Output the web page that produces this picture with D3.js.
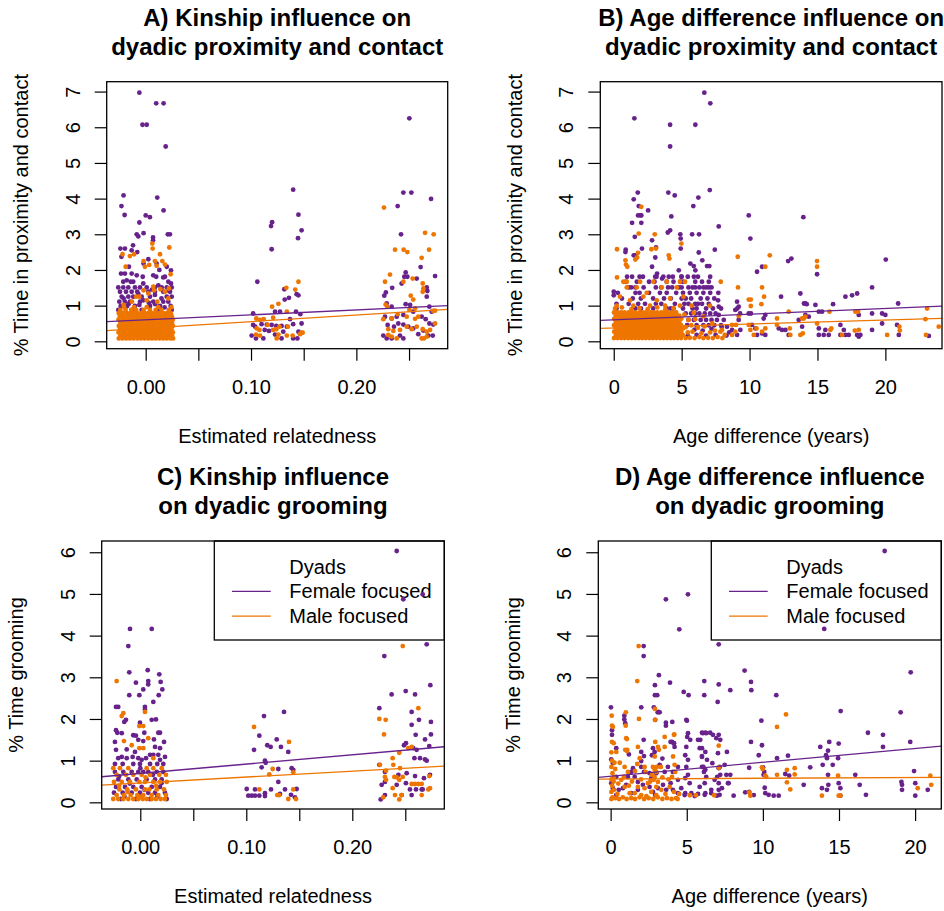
<!DOCTYPE html>
<html>
<head>
<meta charset="utf-8">
<script src="https://cdn.jsdelivr.net/npm/d3@7"></script>
<style>
  body { margin: 0; background: #fff; }
  text { font-family: "Liberation Sans", Arial, Helvetica, sans-serif; }
</style>
</head>
<body>
<svg id="chart" width="944" height="911"></svg>
<script>
// ---- data ----
const kinTicks = [0, 0.05, 0.10, 0.15, 0.20, 0.25];
const kinLabels = ['0.00', '', '0.10', '', '0.20', ''];
const ageTicks = [0, 5, 10, 15, 20];
const ageLabels = ['0', '5', '10', '15', '20'];
const proxTicks = [0, 1, 2, 3, 4, 5, 6, 7];
const groomTicks = [0, 1, 2, 3, 4, 5, 6];
const legendLabels = ['Dyads', 'Female focused', 'Male focused'];

// regression lines [intercept, slope]
const kinProxFemFit = [0.601, 1.39];
const kinProxMaleFit = [0.368, 1.84];
const ageProxFemFit = [0.603, 0.0159];
const ageProxMaleFit = [0.374, 0.0111];
const kinGroomFemFit = [0.695, 2.228];
const kinGroomMaleFit = [0.466, 1.41];
const ageGroomFemFit = [0.627, 0.0333];
const ageGroomMaleFit = [0.56, 0.0018];

// A) relatedness vs % proximity/contact
const kinProxFem = [
  [-0.006,6.97],[-0.003,6.07],[0.001,6.07],[0.010,6.67],[0.017,6.67],[0.019,5.46],
  [-0.021,4.09],[-0.023,3.79],[-0.020,3.54],[0.011,4.03],[0.017,3.67],[0.000,3.53],[0.004,3.48],
  [-0.006,3.33],[-0.0085,3.0],[-0.007,2.94],[-0.002,3.03],[0.007,2.91],[0.007,2.83],[0.021,3.0],[0.023,3.0],
  [-0.024,2.6],[-0.0197,2.6],[-0.023,2.37],[-0.012,2.69],[-0.0133,2.55],[-0.008,2.5],[-0.002,2.18],[0.0025,2.3],
  [0.0104,2.18],[0.013,2.0],[0.02,2.09],[0.024,1.99],[-0.0159,2.09],
  [-0.0234,1.9],[-0.0197,1.9],[-0.0133,1.9],[-0.0085,1.85],[-0.0028,1.81],[0.0072,1.85],[0.0183,1.81],[0.010,1.81],[0.0167,1.79],
  [-0.0213,1.67],[-0.018,1.71],[-0.0142,1.67],[-0.0118,1.67],[-0.0023,1.62],[0.012,1.57],[0.0215,1.67],[0.024,1.62],
  [-0.026,1.51],[-0.0213,1.51],[-0.0165,1.51],[-0.0102,1.51],[-0.0054,1.51],[0.001,1.51],[0.0088,1.51],[0.0152,1.51],[0.02,1.51],[0.0247,1.51],
  [-0.0244,1.39],[-0.0187,1.39],[-0.0133,1.39],[-0.008,1.39],[0.0025,1.39],[0.0088,1.39],[0.0167,1.39],[0.0231,1.39],
  [-0.0228,1.25],[-0.0165,1.25],[-0.0118,1.25],[-0.0038,1.25],[0.0041,1.25],[0.0088,1.3],[0.02,1.25],[0.0247,1.25],
  [-0.025,1.11],[-0.0197,1.11],[-0.0149,1.11],[-0.0054,1.11],[-0.0023,1.15],[0.0072,1.11],[0.0167,1.11],[0.0215,1.11],
  [-0.0237,0.99],[-0.0175,0.99],[-0.0102,0.99],[0.0041,0.99],[0.0136,0.99],[0.0237,0.99],[-0.006,1.02],[0.009,1.04],
  [-0.026,0.88],[-0.0133,0.88],[-0.0038,0.88],[0.012,0.88],[0.0247,0.88],
  [-0.021,1.2],[-0.007,1.33],[0.006,1.45],[0.015,1.2],[0.022,1.42],[-0.016,1.05],[0.003,1.08],[0.018,0.95],[-0.011,0.93],
  [0.140,4.25],[0.145,3.55],[0.148,3.11],[0.1446,2.89],[0.120,3.34],[0.119,3.23],[0.1196,2.58],[0.106,1.67],
  [0.1316,1.46],[0.1433,1.32],[0.145,1.29],[0.132,1.17],[0.136,1.22],[0.102,0.78],[0.1228,0.83],[0.1275,0.83],
  [0.1427,0.83],[0.1468,0.76],[0.137,0.62],[0.102,0.46],[0.104,0.41],[0.110,0.48],[0.115,0.47],[0.1196,0.46],
  [0.124,0.43],[0.129,0.43],[0.134,0.41],[0.140,0.48],[0.148,0.5],[0.113,0.32],[0.117,0.29],[0.1306,0.27],[0.145,0.27],
  [0.1006,0.16],[0.1047,0.08],[0.1117,0.08],[0.1228,0.19],[0.129,0.08],[0.140,0.08],[0.144,0.08],
  [0.2503,6.25],[0.2446,4.17],[0.2522,4.17],[0.2392,3.79],[0.2709,3.99],[0.2424,3.0],[0.261,2.08],[0.2747,1.83],
  [0.2468,1.93],[0.2455,1.81],[0.2484,1.81],[0.234,1.5],[0.243,1.62],[0.228,1.37],[0.2265,1.28],[0.2668,1.51],
  [0.2674,1.41],[0.2668,1.25],[0.2573,1.76],[0.2288,1.06],[0.2335,0.97],[0.2468,1.04],[0.251,1.02],[0.2693,0.97],
  [0.2715,0.83],[0.2272,0.69],[0.2335,0.64],[0.2383,0.69],[0.2446,0.74],[0.254,0.83],[0.262,0.69],[0.2658,0.62],
  [0.2297,0.46],[0.2357,0.41],[0.2398,0.5],[0.2446,0.47],[0.2493,0.41],[0.254,0.36],[0.2693,0.5],[0.273,0.47],
  [0.2256,0.16],[0.2288,0.08],[0.2335,0.08],[0.2414,0.16],[0.2446,0.08],[0.2588,0.2],[0.2635,0.3],[0.2683,0.16],[0.2725,0.16]
];
const kinProxMale = [
  [0.0063,2.74],[0.0224,2.63],[0.0066,2.6],[-0.022,2.44],[-0.015,2.39],[-0.011,2.44],[0.0136,2.44],[-0.002,2.25],
  [0.0034,2.14],[0.0088,2.25],[-0.019,2.09],[-0.0007,2.09],[0.0104,2.12],[0.0237,1.88],[0.0183,2.15],[0.0158,2.25],
  [0.0072,1.53],[0.008,1.43],[-0.002,1.43],[0.014,1.46],[0.022,1.48],[-0.009,1.25],[-0.006,1.25],[0.0025,1.34],
  [0.0183,1.39],[0.001,1.15],[0.0215,1.2],[-0.013,1.11],[-0.021,1.02],[0.011,1.11],
  [-0.0255,0.08],[-0.022,0.08],[-0.0185,0.08],[-0.015,0.08],[-0.0115,0.08],[-0.008,0.08],[-0.0045,0.08],[-0.001,0.08],
  [0.0025,0.08],[0.006,0.08],[0.0095,0.08],[0.013,0.08],[0.0165,0.08],[0.02,0.08],[0.0235,0.08],[0.026,0.08],
  [-0.024,0.16],[-0.0205,0.16],[-0.017,0.16],[-0.0135,0.16],[-0.01,0.16],[-0.0065,0.16],[-0.003,0.16],[0.0005,0.16],
  [0.004,0.16],[0.0075,0.16],[0.011,0.16],[0.0145,0.16],[0.018,0.16],[0.0215,0.16],[0.025,0.16],
  [-0.0258,0.25],[-0.0222,0.25],[-0.019,0.25],[-0.0152,0.25],[-0.012,0.25],[-0.0083,0.25],[-0.005,0.25],[-0.0013,0.25],
  [0.002,0.25],[0.0058,0.25],[0.009,0.25],[0.0128,0.25],[0.016,0.25],[0.0198,0.25],[0.023,0.25],[0.0258,0.25],
  [-0.0245,0.34],[-0.0208,0.34],[-0.0175,0.34],[-0.0138,0.34],[-0.0105,0.34],[-0.0068,0.34],[-0.0035,0.34],[0.0002,0.34],
  [0.0035,0.34],[0.0072,0.34],[0.0105,0.34],[0.0142,0.34],[0.0175,0.34],[0.0212,0.34],[0.0245,0.34],
  [-0.0255,0.43],[-0.0218,0.43],[-0.0185,0.43],[-0.0148,0.43],[-0.0115,0.43],[-0.0078,0.43],[-0.0045,0.43],[-0.0008,0.43],
  [0.0025,0.43],[0.0062,0.43],[0.0095,0.43],[0.0132,0.43],[0.0165,0.43],[0.0202,0.43],[0.0235,0.43],[0.0258,0.43],
  [-0.024,0.52],[-0.0203,0.52],[-0.017,0.52],[-0.0133,0.52],[-0.01,0.52],[-0.0063,0.52],[-0.003,0.52],[0.0007,0.52],
  [0.004,0.52],[0.0077,0.52],[0.011,0.52],[0.0147,0.52],[0.018,0.52],[0.0217,0.52],[0.025,0.52],
  [-0.0258,0.61],[-0.022,0.61],[-0.0188,0.61],[-0.015,0.61],[-0.0118,0.61],[-0.008,0.61],[-0.0048,0.61],[-0.001,0.61],
  [0.0022,0.61],[0.006,0.61],[0.0092,0.61],[0.013,0.61],[0.0162,0.61],[0.02,0.61],[0.0232,0.61],[0.0258,0.61],
  [-0.0245,0.70],[-0.021,0.70],[-0.0172,0.70],[-0.014,0.70],[-0.0102,0.70],[-0.007,0.70],[-0.0032,0.70],[0,0.70],
  [0.0038,0.70],[0.007,0.70],[0.0108,0.70],[0.014,0.70],[0.0178,0.70],[0.021,0.70],[0.0248,0.70],
  [-0.0255,0.79],[-0.0218,0.79],[-0.0182,0.79],[-0.0148,0.79],[-0.0112,0.79],[-0.0078,0.79],[-0.0042,0.79],[-0.0008,0.79],
  [0.0028,0.79],[0.0062,0.79],[0.0098,0.79],[0.0132,0.79],[0.0168,0.79],[0.0202,0.79],[0.0238,0.79],
  [-0.024,0.88],[-0.019,0.88],[-0.0135,0.88],[-0.009,0.88],[-0.002,0.88],[0.004,0.88],[0.0095,0.88],[0.015,0.88],[0.022,0.88],
  [-0.0205,0.96],[-0.011,0.96],[0.001,0.96],[0.012,0.96],[0.0245,0.96],
  [0.145,1.67],[0.1335,1.5],[0.142,1.45],[0.126,1.05],[0.12,0.97],[0.134,0.83],[0.105,0.64],[0.1085,0.6],[0.112,0.62],
  [0.121,0.66],[0.108,0.32],[0.127,0.41],[0.135,0.41],[0.121,0.32],[0.124,0.34],[0.148,0.24],[0.1047,0.19],[0.1085,0.16],
  [0.1244,0.08],[0.126,0.19],[0.134,0.16],[0.1395,0.16],[0.1465,0.2],[0.149,0.24],[0.1054,0.36],[0.1158,0.46],
  [0.2262,3.75],[0.2367,2.57],[0.2449,2.57],[0.2484,2.5],[0.2652,3.04],[0.2734,3.0],[0.269,2.57],[0.262,2.34],
  [0.2272,1.67],[0.2319,1.87],[0.2446,1.67],[0.2535,1.76],[0.263,1.62],[0.2636,1.48],[0.263,1.39],[0.2516,1.28],
  [0.254,1.17],[0.2278,1.03],[0.2294,0.97],[0.2503,0.88],[0.2557,0.92],[0.273,0.85],[0.2747,0.86],[0.2256,0.62],
  [0.2335,0.64],[0.2392,0.76],[0.2478,0.69],[0.2557,0.63],[0.2588,0.69],[0.2747,0.5],[0.2303,0.34],[0.2351,0.29],
  [0.2414,0.32],[0.2478,0.41],[0.2525,0.34],[0.2573,0.41],[0.263,0.34],[0.2668,0.27],[0.27,0.32],[0.2303,0.18],
  [0.2335,0.13],[0.2383,0.08],[0.262,0.08],[0.2642,0.08],[0.2668,0.13]
];

// B) age difference vs % proximity/contact
const ageProxFem = [
  [6.67,6.97],[7.11,6.67],[1.52,6.25],[4.15,6.07],[6.01,6.07],[4.15,5.46],[1.47,3.98],[1.77,4.17],[4.02,4.17],
  [4.49,4.09],[6.23,4.03],[7.07,4.24],[5.86,3.79],[1.84,3.79],[1.96,3.53],[1.79,3.53],[2.03,3.53],[2.53,3.67],
  [1.35,3.32],[2.03,3.32],[1.55,2.93],[4.24,3.5],[3.98,3.05],[4.15,3.11],[4.9,3.0],[4.93,2.88],[5.77,3.0],[6.28,3.0],
  [7.73,3.22],[9.94,3.53],[10.06,2.88],[13.96,3.48],[20.03,2.29],[12.84,2.25],[13.08,2.32],[10.55,1.95],[10.92,2.09],
  [14.97,1.88],[12.32,1.25],[19.02,1.51],[17.06,1.25],[17.55,1.29],[17.92,1.34],[13.74,1.34],[14.11,1.06],[16.15,1.04],
  [14.85,1.02],[20.94,1.06],[19.02,0.78],[19.76,0.78],[20.0,0.74],[7.44,2.57],[6.26,2.49],[6.52,2.27],[6.87,2.11],
  [7.04,2.11],[5.64,2.18],[5.89,2.11],[6.01,1.99],[4.79,1.99],[4.98,1.81],[2.82,2.83],[3.11,2.63],[3.06,2.35],
  [0.88,2.57],[0.86,2.5],[2.08,2.6],[1.47,2.41],[1.59,2.41],[2.82,2.09],[3.19,1.9],[3.56,1.76],[4.93,2.6],
  [0,1.39],[0,1.29],[14.01,1.06],[14.21,1.04],
  [0.98,1.81],[1.35,1.81],[1.9,1.81],[2.15,1.81],[3.05,1.81],[3.15,1.81],[3.65,1.81],[4.05,1.81],[4.35,1.81],[5.0,1.81],
  [5.45,1.81],[5.9,1.81],[6.2,1.81],[7.1,1.81],
  [0.9,1.67],[1.7,1.67],[2.6,1.67],[3.0,1.67],[3.9,1.67],[4.4,1.67],[4.9,1.67],[5.1,1.67],[6.0,1.67],[6.5,1.67],[7.0,1.67],
  [1.1,1.51],[1.3,1.51],[1.6,1.51],[2.2,1.51],[3.1,1.51],[3.5,1.51],[4.0,1.51],[4.3,1.51],[4.8,1.51],[5.0,1.51],
  [5.5,1.51],[5.8,1.51],[6.0,1.51],[6.3,1.51],[6.6,1.51],[6.8,1.51],[7.0,1.51],[7.2,1.51],
  [0.3,1.36],[1.6,1.36],[1.9,1.36],[2.6,1.36],[3.4,1.36],[3.9,1.36],[4.6,1.36],[5.1,1.36],[5.6,1.36],[6.1,1.36],
  [6.6,1.36],[7.1,1.36],[7.7,1.36],
  [0.6,1.2],[1.4,1.2],[2.0,1.2],[2.9,1.2],[3.7,1.2],[4.2,1.2],[5.0,1.2],[5.3,1.2],[5.7,1.2],[6.4,1.2],[6.9,1.2],[7.4,1.2],
  [0.2,1.05],[1.1,1.05],[1.8,1.05],[2.3,1.05],[3.1,1.05],[3.5,1.05],[4.5,1.05],[5.2,1.05],[5.5,1.05],[6.0,1.05],
  [6.2,1.05],[6.5,1.05],[7.0,1.05],
  [0.2,0.92],[1.6,0.92],[2.0,0.92],[2.9,0.92],[3.9,0.92],[4.2,0.92],[4.4,0.92],[5.1,0.92],[5.8,0.92],[6.1,0.92],
  [6.8,0.92],[7.3,0.92],[7.9,0.92],[9.1,0.92],
  [5.3,0.78],[5.7,0.78],[6.0,0.78],[6.3,0.78],[6.7,0.78],[7.1,0.78],[7.5,0.78],[9.3,0.78],[10.1,0.78],
  [5.5,0.6],[5.9,0.6],[6.4,0.6],[6.8,0.6],[7.2,0.6],[7.6,0.6],[8.1,0.6],
  [5.4,0.45],[6.1,0.45],[6.6,0.45],[7.0,0.45],[7.4,0.45],[7.9,0.45],
  [5.45,0.16],[6.1,0.18],[6.8,0.16],[7.5,0.18],[8.3,0.16],[5.95,0.33],[6.55,0.3],[7.2,0.35],[7.95,0.4],[8.5,0.25],
  [15.1,0.18],[15.46,0.18],[15.83,0.18],[17.3,0.18],[17.92,0.18],[16.69,0.46],[16.94,0.32],[19.02,0.32],[19.76,0.5],
  [20.86,0.46],[20.99,0.18],[23.2,0.15],[14.11,0.74],[14.36,0.69],[15.1,0.83],[15.34,0.83],[15.1,0.36],[15.58,0.32],
  [13.62,0.6],[13.87,0.41],[12.64,0.32],[12.88,0.18],[12.15,0.36],[12.39,0.32],[11.04,0.64],[11.16,0.74],[10.92,0.22],
  [11.16,0.18],[10.18,0.46],[10.43,0.36],[10.55,0.18],[9.94,0.78],[9.2,0.97],[9.08,1.11],[8.95,0.88],[9.2,0.6],
  [9.32,0.32],[8.71,0.32],[9.08,0.18],[8.34,0.41],[7.73,0.97],[7.73,0.74],[7.68,1.15],[18.04,0.74],[18.04,0.13],
  [18.16,0.18],[16.69,0.18],[17.06,0.18]
];
const ageProxMale = [
  [2.03,3.77],[1.84,3.02],[3.02,3.0],[0.24,2.58],[2.77,2.58],[3.11,2.6],[4.05,2.41],[4.1,2.32],[4.98,2.74],
  [1.79,2.48],[1.72,2.35],[1.59,2.29],[0.86,2.27],[1.0,2.09],[0.9,2.15],[9.13,2.37],[11.49,2.41],[14.97,2.25],[14.97,2.09],
  [11.16,2.09],[0.24,1.79],[7.88,1.67],[9.15,1.51],[10.92,1.51],[11.07,1.25],[10.87,1.04],[9.94,1.17],[10.09,1.17],
  [10.09,0.99],[9.2,0.71],[9.0,0.46],[23.07,0.92],[22.95,0.62],[23.93,0.41],[22.99,0.18],[20.13,0.18],[21.03,0.41],
  [21.06,0.3],[15.95,0.32],[16.02,0.36],[14.97,0.5],[17.79,0.83],[17.99,0.83],[17.75,0.3],[18.04,0.32],[16.81,0.18],
  [15.88,0.83],[13.87,0.64],[13.99,0.64],[14.11,0.69],[13.74,0.18],[13.92,0.22],[12.96,0.36],[13.0,0.18],[12.02,0.64],
  [12.02,0.46],[11.16,0.36],[10.92,0.27],[10.06,0.32],[10.31,0.18],[9.94,0.46],[7.97,0.32],[8.17,0.18],[8.71,0.18],
  [8.95,0.27],[8.71,0.46],[12.88,0.83],[10.51,0.36],
  [0.71,1.67],[0.96,1.67],[1.94,1.67],[2.92,1.67],[3.9,1.67],[4.88,1.67],[5.25,1.67],
  [0.96,1.51],[1.69,1.51],[3.53,1.51],[4.64,1.51],[2.43,1.36],
  [0.46,1.25],[1.2,1.15],[2.18,1.25],[3.17,1.15],[4.15,1.2],[5.13,1.25],
  [0.22,1.0],[1.44,1.0],[2.67,1.0],[3.78,1.0],[4.88,1.0],[5.74,1.0],[7.09,1.0],
  [0.1,0.92],[0.6,0.95],[1.3,0.9],[1.9,0.93],[2.5,0.9],[3.2,0.95],[3.8,0.9],[4.4,0.93],
  [0.02,0.09],[0.28,0.09],[0.55,0.09],[0.8,0.09],[1.07,0.09],[1.32,0.09],[1.58,0.09],[1.85,0.09],[2.1,0.09],[2.36,0.09],
  [2.63,0.09],[2.88,0.09],[3.14,0.09],[3.41,0.09],[3.66,0.09],[3.92,0.09],[4.19,0.09],[4.44,0.09],[4.7,0.09],[4.96,0.09],
  [0.15,0.18],[0.41,0.18],[0.67,0.18],[0.93,0.18],[1.2,0.18],[1.45,0.18],[1.71,0.18],[1.98,0.18],[2.23,0.18],[2.49,0.18],
  [2.76,0.18],[3.01,0.18],[3.27,0.18],[3.54,0.18],[3.79,0.18],[4.05,0.18],[4.32,0.18],[4.57,0.18],[4.83,0.18],[5.08,0.18],
  [0.03,0.27],[0.29,0.27],[0.54,0.27],[0.81,0.27],[1.06,0.27],[1.33,0.27],[1.58,0.27],[1.84,0.27],[2.11,0.27],[2.36,0.27],
  [2.62,0.27],[2.89,0.27],[3.14,0.27],[3.4,0.27],[3.67,0.27],[3.92,0.27],[4.18,0.27],[4.45,0.27],[4.7,0.27],[4.97,0.27],
  [0.14,0.36],[0.41,0.36],[0.66,0.36],[0.93,0.36],[1.19,0.36],[1.45,0.36],[1.72,0.36],[1.97,0.36],[2.24,0.36],[2.49,0.36],
  [2.75,0.36],[3.02,0.36],[3.27,0.36],[3.53,0.36],[3.8,0.36],[4.05,0.36],[4.31,0.36],[4.58,0.36],[4.83,0.36],[5.1,0.36],
  [0.02,0.45],[0.28,0.45],[0.55,0.45],[0.8,0.45],[1.06,0.45],[1.33,0.45],[1.58,0.45],[1.84,0.45],[2.11,0.45],[2.36,0.45],
  [2.62,0.45],[2.89,0.45],[3.14,0.45],[3.4,0.45],[3.67,0.45],[3.92,0.45],[4.18,0.45],[4.45,0.45],[4.7,0.45],[4.96,0.45],
  [0.15,0.54],[0.41,0.54],[0.67,0.54],[0.93,0.54],[1.2,0.54],[1.45,0.54],[1.71,0.54],[1.98,0.54],[2.23,0.54],[2.49,0.54],
  [2.76,0.54],[3.01,0.54],[3.27,0.54],[3.54,0.54],[3.79,0.54],[4.05,0.54],[4.32,0.54],[4.57,0.54],[4.83,0.54],
  [0.03,0.63],[0.29,0.63],[0.54,0.63],[0.81,0.63],[1.06,0.63],[1.33,0.63],[1.58,0.63],[1.84,0.63],[2.11,0.63],[2.36,0.63],
  [2.62,0.63],[2.89,0.63],[3.14,0.63],[3.4,0.63],[3.67,0.63],[3.92,0.63],[4.18,0.63],[4.45,0.63],[4.7,0.63],[4.97,0.63],
  [0.14,0.72],[0.41,0.72],[0.66,0.72],[0.93,0.72],[1.19,0.72],[1.45,0.72],[1.72,0.72],[1.97,0.72],[2.24,0.72],[2.49,0.72],
  [2.75,0.72],[3.02,0.72],[3.27,0.72],[3.53,0.72],[3.8,0.72],[4.05,0.72],[4.31,0.72],[4.58,0.72],[4.83,0.72],
  [0.02,0.81],[0.3,0.81],[0.55,0.81],[0.8,0.81],[1.1,0.81],[1.35,0.81],[1.6,0.81],[1.9,0.81],[2.15,0.81],[2.4,0.81],
  [2.7,0.81],[2.95,0.81],[3.2,0.81],[3.5,0.81],[3.75,0.81],[4.0,0.81],[4.3,0.81],[4.6,0.81],
  [5.3,0.09],[5.6,0.1],[5.95,0.09],[6.3,0.12],[6.6,0.09],[6.95,0.1],[7.3,0.09],[7.65,0.12],[8.0,0.09],
  [5.45,0.25],[5.8,0.27],[6.45,0.22],[7.1,0.25],[7.45,0.3],[7.85,0.27],[5.3,0.4],[5.7,0.45],[6.2,0.38],[6.7,0.42],
  [7.25,0.5],[5.5,0.6],[6.0,0.62],[5.2,0.75],[5.9,0.8],[6.6,0.7]
];

// C) relatedness vs % grooming
const kinGroomFem = [
  [-0.0097,4.16],[0.0108,4.16],[-0.0113,3.75],[-0.0104,3.12],[0.007,3.17],[-0.0041,2.87],[0.0075,2.91],[0.0075,2.83],
  [0.0179,3.07],[0.0192,2.89],[0.0208,2.71],[0.0028,2.71],[-0.0104,2.57],[-0.0009,2.57],[0.0174,2.57],[0.0123,2.41],
  [-0.0229,2.29],[-0.0208,2.29],[0.0044,2.29],[0.0044,2.23],[-0.0135,1.98],[-0.0151,1.93],[0.0108,1.98],[0.0148,1.99],
  [-0.0003,1.91],[0.0038,1.67],[-0.0229,1.73],[-0.0217,1.67],[-0.0175,1.66],[-0.0066,1.61],[-0.0041,1.6],[0.0129,1.51],
  [0.017,1.67],[0.0186,1.67],[0.0224,1.45],[-0.0239,1.45],[-0.0019,1.5],[0.0028,1.47],[-0.0229,1.26],[-0.0128,1.27],
  [0.0139,1.33],[0.0186,1.3],[-0.005,1.21],[-0.0072,1.09],[0.0092,1.14],[0.0123,1.14],[0.017,1.14],[-0.0208,1.06],
  [-0.0175,1.09],[-0.0128,1.06],[-0.0019,1.06],[0.0013,1.02],[0.0054,1.06],[0.0186,1.02],[0.0233,1.09],
  [-0.0239,0.92],[-0.0166,0.92],[-0.0066,0.92],[-0.0003,0.92],[0.0092,0.92],[0.016,0.92],[0.0217,0.92],
  [-0.0239,0.73],[-0.016,0.73],[-0.0081,0.73],[-0.0019,0.73],[0.0028,0.73],[0.0075,0.73],[0.0155,0.73],[0.0217,0.73],
  [-0.0208,0.55],[-0.0113,0.55],[-0.0034,0.55],[0.006,0.55],[0.0139,0.55],[0.0202,0.55],
  [-0.0229,0.37],[-0.0144,0.37],[-0.0066,0.37],[0.0013,0.37],[0.0108,0.37],[0.0186,0.37],
  [-0.0248,0.23],[-0.0166,0.23],[-0.0081,0.23],[-0.0003,0.23],[0.0075,0.23],[0.0139,0.23],[0.0233,0.23],
  [-0.0185,0.08],[-0.0041,0.08],[0.0092,0.08],[0.0249,0.08],
  [-0.02,0.62],[0.0,0.82],[0.012,0.66],[-0.01,0.45],[0.02,0.46],[0.004,0.3],[-0.015,0.14],[0.016,0.14],
  [0.1167,2.07],[0.1356,2.17],[0.1123,1.6],[0.1073,1.26],[0.1198,1.37],[0.123,1.33],[0.1287,1.51],[0.1327,1.33],
  [0.1396,1.21],[0.1176,1.0],[0.1183,0.95],[0.1145,0.84],[0.1302,0.8],[0.1428,0.82],[0.1443,0.78],[0.1004,0.32],
  [0.1082,0.31],[0.1019,0.16],[0.1051,0.16],[0.1082,0.16],[0.1123,0.16],[0.1176,0.22],[0.1176,0.15],[0.1233,0.31],
  [0.1302,0.49],[0.1365,0.31],[0.1318,0.2],[0.1422,0.18],[0.1475,0.32],[0.1459,0.12],
  [0.2419,6.03],[0.2481,4.87],[0.2664,4.99],[0.2302,3.51],[0.2702,3.79],[0.2736,2.81],[0.2371,2.59],[0.2504,2.67],
  [0.2592,2.59],[0.2255,2.26],[0.256,2.17],[0.2629,1.98],[0.256,1.86],[0.2742,1.93],[0.2742,1.63],[0.2598,1.62],
  [0.2686,1.51],[0.2488,1.37],[0.2506,1.42],[0.2575,1.3],[0.2607,1.26],[0.2726,1.35],[0.2586,1.06],[0.2639,1.06],
  [0.2686,1.03],[0.2702,1.0],[0.2255,0.9],[0.2308,0.73],[0.2435,0.66],[0.2513,0.7],[0.2592,0.63],[0.2733,0.66],
  [0.2277,0.42],[0.2308,0.49],[0.2419,0.42],[0.2506,0.46],[0.2544,0.31],[0.2601,0.31],[0.2655,0.31],[0.2676,0.58],
  [0.2268,0.07],[0.2308,0.175],[0.2466,0.175],[0.256,0.175],[0.2664,0.31]
];
const kinGroomMale = [
  [-0.0223,2.91],[0.0044,2.17],[-0.016,2.14],[-0.0175,2.07],[-0.0009,1.83],[0.0028,1.83],[0.0075,1.54],[-0.0154,1.47],
  [-0.0081,1.37],[-0.0009,1.3],[0.0028,1.3],[0.0123,1.06],
  [-0.0255,0.82],[-0.0192,0.82],[-0.0113,0.82],[0.006,0.82],[0.0123,0.82],[0.0202,0.82],
  [-0.0223,0.66],[-0.0135,0.66],[-0.0066,0.66],[0.0013,0.66],[0.0092,0.66],[0.0179,0.66],[0.0242,0.66],
  [-0.0248,0.49],[-0.0175,0.49],[-0.0097,0.49],[-0.0009,0.49],[0.0044,0.49],[0.0123,0.49],[0.0186,0.49],[0.0249,0.49],
  [-0.0198,0.31],[-0.0123,0.31],[-0.0041,0.31],[0.0044,0.31],[0.0085,0.31],[0.0155,0.31],[0.0224,0.31],
  [-0.0223,0.175],[-0.0154,0.175],[-0.0091,0.175],[-0.0028,0.175],[0.0028,0.175],[0.0108,0.175],[0.017,0.175],[0.0242,0.175],
  [-0.0255,0.08],[-0.0208,0.08],[-0.016,0.08],[-0.0113,0.08],[-0.0066,0.08],[-0.0019,0.08],[0.0023,0.08],[0.006,0.08],
  [0.0108,0.08],[0.0148,0.08],[0.0192,0.08],[0.0233,0.08],
  [0.005,0.6],[-0.02,0.4],[0.015,0.4],[0.0,0.13],[-0.012,0.25],
  [0.1073,1.81],[0.1403,1.45],[0.1249,0.8],[0.1217,0.67],[0.1443,0.72],[0.1123,0.31],[0.1443,0.31],[0.1292,0.175],
  [0.1311,0.175],[0.1396,0.08],[0.1469,0.08],
  [0.2476,3.75],[0.2255,2.0],[0.2315,1.98],[0.2299,1.63],[0.2623,2.26],[0.2381,1.06],[0.2387,0.9],[0.2443,1.19],
  [0.256,1.33],[0.2528,1.3],[0.2261,0.9],[0.2318,0.76],[0.2308,0.61],[0.2318,0.54],[0.245,0.82],[0.2476,0.61],
  [0.2397,0.61],[0.2419,0.6],[0.256,0.44],[0.2592,0.44],[0.2623,0.44],[0.2655,0.44],[0.2726,0.63],[0.2733,0.34],
  [0.2717,0.31],[0.2381,0.34],[0.2403,0.175],[0.2292,0.12],[0.2443,0.07],[0.2466,0.175],[0.2655,0.175],[0.2443,0.54]
];

// D) age difference vs % grooming
const ageGroomFem = [
  [18.0,6.03],[3.63,4.87],[5.08,4.99],[4.51,4.15],[14.03,4.16],[7.1,3.79],[2.17,3.75],[2.17,3.51],[3.17,3.05],
  [3.9,2.87],[2.91,2.81],[2.91,2.57],[3.06,2.57],[4.8,2.65],[5.12,2.57],[6.15,2.91],[6.15,2.57],[7.1,2.83],[7.03,2.41],
  [7.86,2.69],[8.8,3.16],[9.22,2.89],[9.24,2.69],[10.88,2.57],[19.05,2.16],[19.71,3.12],[15.11,2.19],[3.09,2.16],
  [3.22,2.16],[2.01,2.28],[0.02,2.28],[0.9,1.99],[0.96,1.9],[0.9,2.08],[3.63,1.91],[3.63,1.84],[4.05,1.93],[5.01,1.96],
  [9.9,1.96],[0.09,1.73],[0.09,1.62],[2.17,1.5],[4.03,1.45],[4.14,1.42],[5.08,1.66],[5.23,1.5],[6.0,1.67],[6.22,1.67],
  [6.54,1.67],[5.89,1.5],[7.1,1.62],[7.2,1.5],[7.64,1.21],[9.22,1.45],[9.94,1.37],[9.73,1.13],[11.65,1.12],[13.11,0.84],
  [13.77,1.33],[14.36,1.45],[14.28,1.24],[14.21,1.06],[14.15,1.13],[14.98,1.41],[14.94,1.06],[16.9,1.67],[17.89,1.62],
  [17.89,1.33],[19.68,1.45],[19.93,0.75],[13.93,0.9],[14.59,0.9],[14.28,0.66],[16.07,0.66],[19.1,0.49],[19.14,0.42],
  [19.14,0.3],[20.01,0.46],[20.01,0.16],[20.83,0.3],[14.98,0.46],[15.09,0.34],[15.09,0.16],[13.88,0.34],[14.21,0.3],
  [14.3,0.42],[16.36,0.42],[16.77,0.18],[12.68,0.42],[10.16,0.22],[10.38,0.18],[10.71,0.16],[11.04,0.16],[10.01,0.84],
  [10.09,0.73],[11.47,0.68],[11.73,0.64],[10.93,1.06],[9.1,0.25],[9.4,0.175],[10.12,0.35],[10.05,0.66],[9.1,0.83],
  [8.08,0.16],[8.84,0.24],[7.86,0.66],[7.75,0.46],[7.1,0.82],[7.2,0.66],[7.1,0.46],[7.31,0.34],[7.1,0.3],[6.98,0.16],
  [2.01,1.21],[2.19,1.11],[2.84,2.28],[3.15,2.17],[2.93,1.98],[3.94,1.45],[4.16,1.42],[4.2,1.33],[2.78,1.3],[2.89,1.21],
  [2.01,0.85],[2.19,0.73],[1.47,0.82],[1.58,0.61],[3.22,0.9],[3.55,0.73],[3.76,0.85],[4.09,0.73],[4.42,0.85],[4.97,1.98],
  [5.03,1.57],[4.97,1.33],[4.9,1.13],[5.08,1.02],[4.97,0.85],[5.08,0.66],[4.9,0.58],[5.19,0.46],[4.9,0.22],[5.74,1.5],
  [5.85,1.3],[6.0,1.11],[6.09,0.85],[6.06,1.66],[6.28,1.66],[6.72,1.62],[6.13,0.73],[6.28,0.61],[6.18,0.46],[6.22,0.22],
  [6.94,1.54],[7.05,1.18],[7.16,0.85],[7.0,0.61],[6.68,0.94],[6.83,0.54],[6.61,0.3],[7.49,0.9],[7.6,0.66],[7.71,0.46],
  [4.42,0.22],[4.86,0.175],[5.3,0.22],[5.52,0.15],[5.74,0.2],[6.18,0.18],[6.61,0.22],[7.16,0.18],[5.85,0.37],[4.42,0.54],
  [4.64,0.34],[3.94,0.46],[4.09,0.3],[3.44,0.42],[3.65,0.3],[3.11,0.34],[2.56,0.37],[2.78,0.25],[2.93,0.175],[2.12,0.42],
  [1.79,0.3],[1.35,0.22],[1.02,0.42],[0.81,0.34],[0.53,0.3],[0.37,0.175],[1.14,0.61],[1.35,0.73],[0.37,0.61],[0.04,0.46],
  [0.15,0.34],[0.04,1.03],[0.15,0.94],[0.37,1.3],[1.79,0.49],[2.56,0.7],[2.67,0.58],[3.0,0.7],
  [6.0,1.3],[6.22,1.21],[6.0,1.09],[6.33,1.02],[6.0,0.85],[6.22,0.78],[2.01,0.99],[2.71,1.13],[1.2,1.15],[3.4,1.05]
];
const ageGroomMale = [
  [1.84,3.75],[1.75,2.91],[1.86,2.0],[0.07,2.08],[0.09,1.84],[0.15,1.81],[1.0,2.16],[0.99,1.84],[2.91,2.24],[2.91,1.98],
  [2.93,1.45],[4.18,1.63],[1.07,1.52],[0.09,1.45],[0.2,1.42],[0.96,1.26],[1.07,1.23],[7.1,1.36],[11.52,2.11],[10.93,1.81],
  [20.17,0.34],[21.0,0.64],[21.06,0.42],[13.88,0.16],[14.94,0.64],[14.98,0.16],[15.09,0.16],[9.94,0.84],[9.99,0.8],
  [10.16,0.64],[11.58,0.78],[12.09,0.82],[11.58,0.48],[11.8,0.31],[10.93,0.66],[9.1,0.24],[9.17,0.16],[7.1,0.83],
  [12.09,0.67],[10.22,0.61],
  [0.05,1.2],[0.1,1.0],[0.05,0.85],[0.12,0.7],[0.05,0.55],[0.1,0.4],[0.05,0.25],[0.12,0.12],[0.2,0.6],[0.22,0.3],
  [0.25,0.95],[0.3,0.8],[0.37,1.21],[1.02,1.54],[1.09,1.26],[0.92,0.85],[1.14,0.73],[0.87,0.61],[1.79,1.33],[1.91,1.06],
  [1.75,0.92],[2.23,0.85],[2.3,0.73],[2.78,0.85],[3.0,0.73],[2.89,0.61],[3.11,1.33],[3.17,1.26],[3.55,1.57],[3.55,1.33],
  [4.16,1.62],[4.2,0.9],[4.24,0.73],[4.03,0.61],[3.88,0.37],[4.16,0.25],[3.11,0.49],[3.0,0.37],[3.33,0.3],[2.45,0.46],
  [2.23,0.34],[2.67,0.25],[1.79,0.37],[1.58,0.22],[2.01,0.175],[0.7,0.54],[0.92,0.37],[1.25,0.22],
  [0.05,0.08],[0.3,0.1],[0.55,0.08],[0.8,0.12],[1.05,0.08],[1.35,0.1],[1.6,0.08],[1.9,0.12],[2.2,0.08],[2.5,0.1],
  [2.8,0.08],[3.1,0.12],[3.4,0.08],[3.7,0.1],[4.0,0.08],[4.3,0.1],
  [0.5,0.45],[1.4,0.5],[2.0,0.55],[2.6,0.5],[3.4,0.6],[3.8,0.55],[1.6,0.75],[0.6,0.95],[2.9,1.1],[3.3,0.85],[4.1,1.1],
  [0.45,0.2],[3.6,0.2],[2.35,0.15],[0.2,0.5],[1.2,0.4],[5.2,0.17],[5.6,0.17],[4.5,0.2],[6.8,0.17],[4.4,0.08],[3.0,0.17],
  [2.71,0.66],[2.89,0.78],[3.04,0.85],[2.83,0.54]
];

// ---- drawing ----
const PURPLE = '#68228B';
const ORANGE = '#EE7600';
const FONT = '"Liberation Sans", Arial, Helvetica, sans-serif';
const DOT_R = 2.4;

const panels = [
  {id: 'A', title: ['A) Kinship influence on', 'dyadic proximity and contact'],
   box: [106.7, 81.7, 447.7, 348.7], xDom: [-0.037, 0.2867], yDom: [-0.207, 7.277],
   xTicks: kinTicks, xLabels: kinLabels, yTicks: proxTicks,
   xTitle: 'Estimated relatedness', yTitle: '% Time in proximity and contact',
   fem: kinProxFem, male: kinProxMale, femFit: kinProxFemFit, maleFit: kinProxMaleFit, legendLeft: null},
  {id: 'B', title: ['B) Age difference influence on', 'dyadic proximity and contact'],
   box: [600.3, 81.7, 942, 348.7], xDom: [-0.99, 24.17], yDom: [-0.207, 7.277],
   xTicks: ageTicks, xLabels: ageLabels, yTicks: proxTicks,
   xTitle: 'Age difference (years)', yTitle: '% Time in proximity and contact',
   fem: ageProxFem, male: ageProxMale, femFit: ageProxFemFit, maleFit: ageProxMaleFit, legendLeft: null},
  {id: 'C', title: ['C) Kinship influence', 'on dyadic grooming'],
   box: [101.7, 541, 444.3, 809], xDom: [-0.0364, 0.2868], yDom: [-0.16, 6.27],
   xTicks: kinTicks, xLabels: kinLabels, yTicks: groomTicks,
   xTitle: 'Estimated relatedness', yTitle: '% Time grooming',
   fem: kinGroomFem, male: kinGroomMale, femFit: kinGroomFemFit, maleFit: kinGroomMaleFit, legendLeft: 214.3},
  {id: 'D', title: ['D) Age difference influence', 'on dyadic grooming'],
   box: [598.3, 541, 941.3, 809], xDom: [-0.81, 21.72], yDom: [-0.16, 6.27],
   xTicks: ageTicks, xLabels: ageLabels, yTicks: groomTicks,
   xTitle: 'Age difference (years)', yTitle: '% Time grooming',
   fem: ageGroomFem, male: ageGroomMale, femFit: ageGroomFemFit, maleFit: ageGroomMaleFit, legendLeft: 711.3}
];

const svg = d3.select('#chart');
const defs = svg.append('defs');

function drawPanel(p) {
  const [x0, y0, x1, y1] = p.box;
  const x = d3.scaleLinear().domain(p.xDom).range([x0, x1]);
  const y = d3.scaleLinear().domain(p.yDom).range([y1, y0]);
  const g = svg.append('g').attr('class', 'panel-' + p.id);

  defs.append('clipPath').attr('id', 'clip' + p.id)
    .append('rect').attr('x', x0).attr('y', y0).attr('width', x1 - x0).attr('height', y1 - y0);

  // legend (transparent box, like R's legend)
  if (p.legendLeft !== null) {
    const lg = g.append('g');
    lg.append('rect')
      .attr('x', p.legendLeft).attr('y', y0)
      .attr('width', x1 - p.legendLeft).attr('height', 99)
      .attr('fill', 'none').attr('stroke', '#000').attr('stroke-width', 1.3);
    const cols = [null, PURPLE, ORANGE];
    legendLabels.forEach(function(lbl, i) {
      const cy = y0 + 25.7 + i * 24.7;
      if (cols[i]) {
        lg.append('line')
          .attr('x1', p.legendLeft + 17.7).attr('x2', p.legendLeft + 56.4)
          .attr('y1', cy).attr('y2', cy)
          .attr('stroke', cols[i]).attr('stroke-width', 1.3);
      }
      lg.append('text')
        .attr('x', p.legendLeft + 75).attr('y', cy + 6.8)
        .attr('font-size', 20).text(lbl);
    });
  }

  // points: females first, males on top
  const pts = g.append('g');
  pts.selectAll('circle.fem').data(p.fem).join('circle')
    .attr('class', 'fem')
    .attr('cx', d => x(d[0])).attr('cy', d => y(d[1]))
    .attr('r', DOT_R).attr('fill', PURPLE);
  pts.selectAll('circle.male').data(p.male).join('circle')
    .attr('class', 'male')
    .attr('cx', d => x(d[0])).attr('cy', d => y(d[1]))
    .attr('r', DOT_R).attr('fill', ORANGE);

  // regression lines (abline across plot region)
  const fits = g.append('g').attr('clip-path', 'url(#clip' + p.id + ')');
  [[p.femFit, PURPLE], [p.maleFit, ORANGE]].forEach(function(f) {
    const a = f[0][0], b = f[0][1];
    fits.append('line')
      .attr('x1', x(p.xDom[0])).attr('y1', y(a + b * p.xDom[0]))
      .attr('x2', x(p.xDom[1])).attr('y2', y(a + b * p.xDom[1]))
      .attr('stroke', f[1]).attr('stroke-width', 1.3);
  });

  // x axis
  const xAxis = d3.axisBottom(x)
    .tickValues(p.xTicks)
    .tickSize(12).tickSizeOuter(0)
    .tickFormat((d, i) => p.xLabels[i]);
  const gx = g.append('g').attr('transform', 'translate(0,' + y1 + ')').call(xAxis);
  gx.select('.domain').remove();
  gx.selectAll('line').attr('stroke', '#000').attr('stroke-width', 1.2);
  gx.selectAll('text')
    .attr('y', 45).attr('dy', null)
    .attr('font-size', 20).attr('font-family', FONT).attr('fill', '#000');

  // y axis, labels parallel to the axis as in R
  const yAxis = d3.axisLeft(y)
    .tickValues(p.yTicks)
    .tickSize(12).tickSizeOuter(0)
    .tickFormat(d3.format('d'));
  const gy = g.append('g').attr('transform', 'translate(' + x0 + ',0)').call(yAxis);
  gy.select('.domain').remove();
  gy.selectAll('line').attr('stroke', '#000').attr('stroke-width', 1.2);
  gy.selectAll('text')
    .attr('x', null).attr('dy', null)
    .attr('transform', 'translate(-27,0) rotate(-90)')
    .attr('text-anchor', 'middle')
    .attr('font-size', 20).attr('font-family', FONT).attr('fill', '#000');

  // plot box
  g.append('rect')
    .attr('x', x0).attr('y', y0).attr('width', x1 - x0).attr('height', y1 - y0)
    .attr('fill', 'none').attr('stroke', '#000').attr('stroke-width', 1.3);

  // titles
  const cx = (x0 + x1) / 2;
  g.append('text').attr('x', cx).attr('y', y0 - 55.8)
    .attr('text-anchor', 'middle').attr('font-size', 24).attr('font-weight', 'bold')
    .text(p.title[0]);
  g.append('text').attr('x', cx).attr('y', y0 - 27)
    .attr('text-anchor', 'middle').attr('font-size', 24).attr('font-weight', 'bold')
    .text(p.title[1]);
  g.append('text').attr('x', cx).attr('y', y1 + 94.3)
    .attr('text-anchor', 'middle').attr('font-size', 20)
    .text(p.xTitle);
  g.append('text')
    .attr('transform', 'translate(' + (x0 - 78.5) + ',' + ((y0 + y1) / 2) + ') rotate(-90)')
    .attr('text-anchor', 'middle').attr('font-size', 20)
    .text(p.yTitle);
}

panels.forEach(drawPanel);
</script>
</body>
</html>
